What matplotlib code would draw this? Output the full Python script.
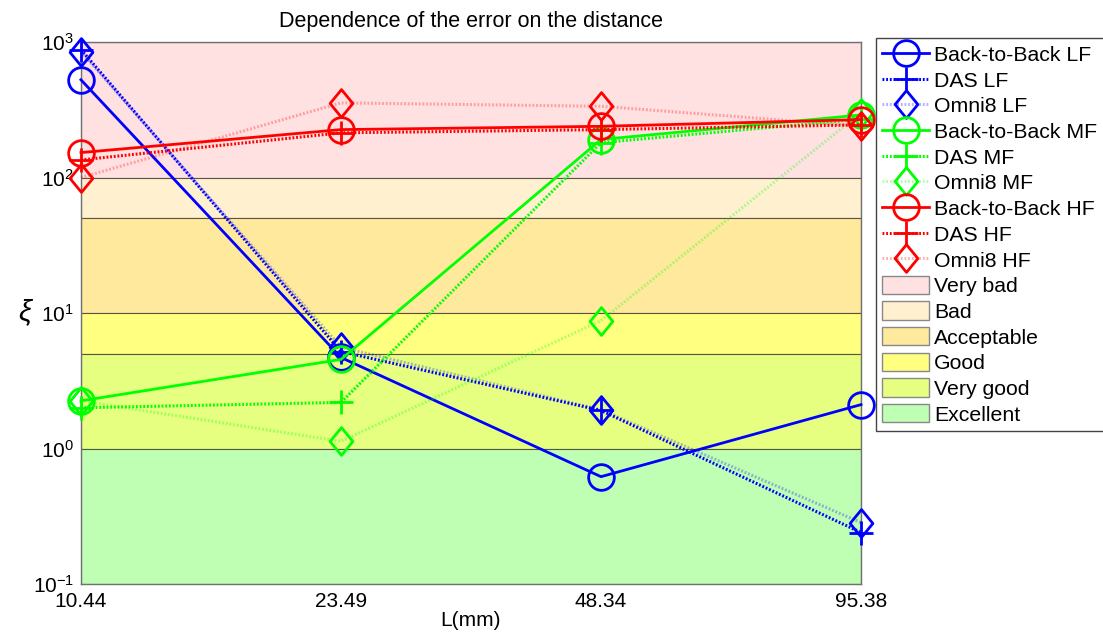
import matplotlib
matplotlib.use("Agg")
import matplotlib.pyplot as plt
from matplotlib.patches import Patch
from matplotlib.path import Path
from matplotlib.ticker import FixedFormatter

plt.rcParams['font.family'] = ['Liberation Sans', 'DejaVu Sans']
plt.rcParams['mathtext.fontset'] = 'custom'
plt.rcParams['mathtext.rm'] = 'Liberation Sans'
plt.rcParams['mathtext.it'] = 'Liberation Sans:italic'

# distances (mm) used as categorical x positions
distances = ['10.44', '23.49', '48.34', '95.38']

b2b_lf = [527, 4.7, 0.62, 2.11]
das_lf = [880, 5.2, 1.91, 0.24]
omni_lf = [850, 5.6, 1.93, 0.284]
b2b_mf = [2.25, 4.55, 191, 290]
das_mf = [2.0, 2.19, 181, 270]
omni_mf = [2.25, 1.13, 8.8, 300]
b2b_hf = [153, 226, 239, 268]
das_hf = [135, 214, 226, 245]
omni_hf = [100, 356, 336, 240]

# quality bands
band_names = ['Very bad', 'Bad', 'Acceptable', 'Good', 'Very good', 'Excellent']
band_lo = [100, 50, 10, 5, 1, 0.1]
band_hi = [1000, 100, 50, 10, 5, 1]
band_colors = ['#ffe1e1', '#fff1d0', '#ffe99c', '#ffff80', '#e6ff80', '#bfffb3']

y_ticks = [0.1, 1, 10, 100, 1000]
y_ticklabels = [r'$10^{\mathrm{-}1}$', r'$10^{0}$', r'$10^{1}$', r'$10^{2}$', r'$10^{3}$']

diamond = Path([(0, 1), (0.82, 0), (0, -1), (-0.82, 0), (0, 1)],
               [Path.MOVETO, Path.LINETO, Path.LINETO, Path.LINETO, Path.CLOSEPOLY])

fig = plt.figure(figsize=(11.03, 6.38), dpi=100)
ax = fig.add_axes([0.0734, 0.0846, 0.7072, 0.8494])

for lo, hi, c in zip(band_lo, band_hi, band_colors):
    ax.axhspan(lo, hi, facecolor=c, edgecolor=(0.25, 0.25, 0.2, 0.8), lw=0.8, zorder=0)

x = list(range(len(distances)))
series = [
    ('Back-to-Back LF', b2b_lf, (0, 0, 1)),
    ('DAS LF', das_lf, (0, 0, 1)),
    ('Omni8 LF', omni_lf, (0, 0, 1)),
    ('Back-to-Back MF', b2b_mf, (0, 1, 0)),
    ('DAS MF', das_mf, (0, 1, 0)),
    ('Omni8 MF', omni_mf, (0, 1, 0)),
    ('Back-to-Back HF', b2b_hf, (1, 0, 0)),
    ('DAS HF', das_hf, (1, 0, 0)),
    ('Omni8 HF', omni_hf, (1, 0, 0)),
]

handles = []
for i, (name, y, c) in enumerate(series):
    kind = i % 3
    if kind == 0:
        h, = ax.plot(x, y, '-', color=c, lw=2, marker='o', ms=18.5, mfc='none',
                     mew=2, clip_on=False, label=name, zorder=3)
    elif kind == 1:
        h, = ax.plot(x, y, color=c, lw=2.2, ls=(0, (0.6, 0.6)), marker='+', ms=17,
                     mew=2, clip_on=False, label=name, zorder=3)
    else:
        h, = ax.plot(x, y, color=c + (0.3,), lw=2.2, ls=(0, (0.6, 0.6)),
                     marker=diamond, ms=20, mfc='none', mec=c + (1,), mew=2,
                     clip_on=False, label=name, zorder=3)
    handles.append(h)

for name, c in zip(band_names, band_colors):
    handles.append(Patch(facecolor=c, edgecolor='#888888', lw=1, label=name))

ax.set_yscale('log')
ax.set_ylim(0.1, 1000)
ax.set_xlim(0, 3)
ax.set_xticks(x)
ax.set_xticklabels(distances)
ax.minorticks_off()
ax.set_yticks(y_ticks)
ax.yaxis.set_major_formatter(FixedFormatter(y_ticklabels))
ax.tick_params(labelsize=15, length=0)
ax.tick_params(axis='x', pad=6)
ax.tick_params(axis='y', pad=5)
for s in ax.spines.values():
    s.set_color('#707070')
    s.set_linewidth(1)

ax.set_title('Dependence of the error on the distance', fontsize=15.5, pad=11)
ax.set_xlabel('L(mm)', fontsize=15, labelpad=0)
ax.set_ylabel(r'$\xi$', fontsize=21, rotation=0, ha='center', va='center')
ax.yaxis.set_label_coords(-0.07, 0.5)

leg = fig.legend(handles=handles, loc='upper left', bbox_to_anchor=(0.794, 0.94),
                 fontsize=15.3, handlelength=2.2, handleheight=0.95, handletextpad=0.25,
                 labelspacing=0.245, borderpad=0.3, borderaxespad=0,
                 fancybox=False, edgecolor='#444444', framealpha=1)
leg.get_frame().set_linewidth(1)

fig.savefig('out.png', dpi=100)
